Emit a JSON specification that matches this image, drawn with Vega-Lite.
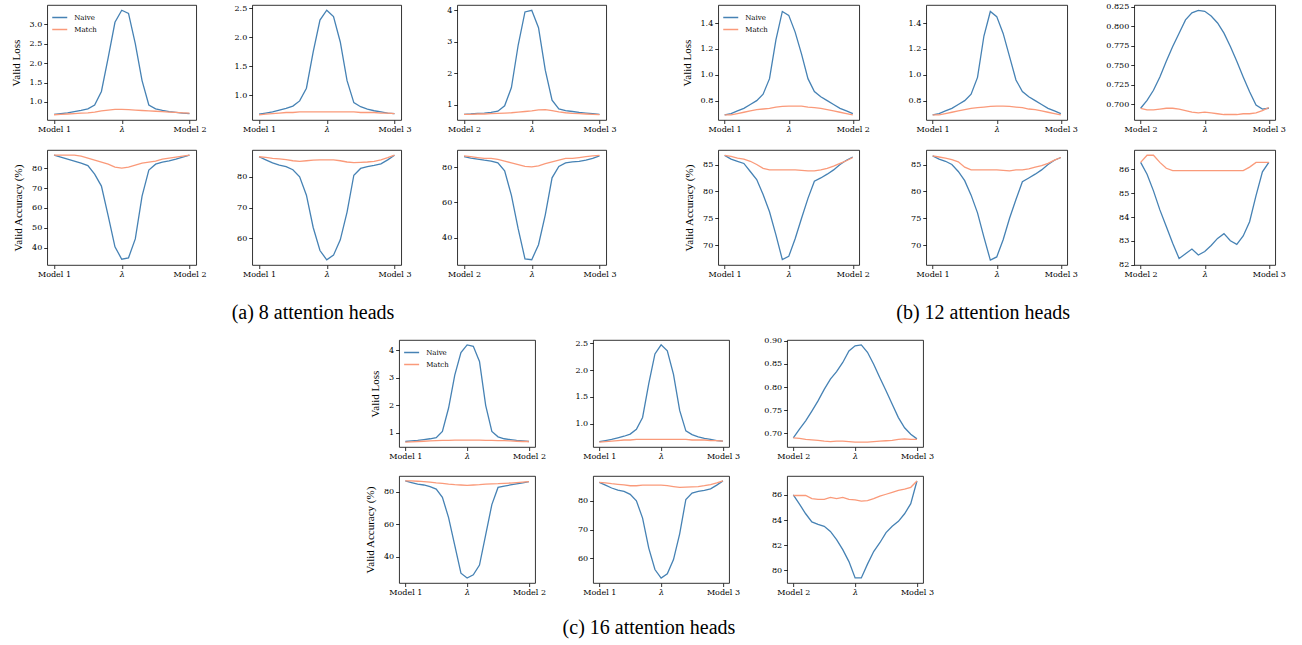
{
"$schema":"https://vega.github.io/schema/vega-lite/v6.json",
"padding":{"left":9,"top":2,"right":5,"bottom":5},
"background":"white",
"data":{"values":[
{"p":"a1L","x":0,"Naive":0.68,"Match":0.67},{"p":"a1L","x":0.05,"Naive":0.70,"Match":0.68},{"p":"a1L","x":0.1,"Naive":0.72,"Match":0.69},{"p":"a1L","x":0.15,"Naive":0.75,"Match":0.70},{"p":"a1L","x":0.2,"Naive":0.78,"Match":0.71},{"p":"a1L","x":0.25,"Naive":0.82,"Match":0.72},{"p":"a1L","x":0.3,"Naive":0.92,"Match":0.74},{"p":"a1L","x":0.35,"Naive":1.27,"Match":0.77},{"p":"a1L","x":0.4,"Naive":2.14,"Match":0.79},{"p":"a1L","x":0.45,"Naive":3.05,"Match":0.81},{"p":"a1L","x":0.5,"Naive":3.36,"Match":0.81},{"p":"a1L","x":0.55,"Naive":3.28,"Match":0.80},{"p":"a1L","x":0.6,"Naive":2.50,"Match":0.79},{"p":"a1L","x":0.65,"Naive":1.55,"Match":0.78},{"p":"a1L","x":0.7,"Naive":0.92,"Match":0.77},{"p":"a1L","x":0.75,"Naive":0.82,"Match":0.76},{"p":"a1L","x":0.8,"Naive":0.78,"Match":0.75},{"p":"a1L","x":0.85,"Naive":0.75,"Match":0.74},{"p":"a1L","x":0.9,"Naive":0.73,"Match":0.73},{"p":"a1L","x":0.95,"Naive":0.71,"Match":0.72},{"p":"a1L","x":1,"Naive":0.70,"Match":0.71},
{"p":"a1A","x":0,"Naive":86.5,"Match":86.5},{"p":"a1A","x":0.05,"Naive":85.5,"Match":86.5},{"p":"a1A","x":0.1,"Naive":84.5,"Match":86.5},{"p":"a1A","x":0.15,"Naive":83.5,"Match":86.5},{"p":"a1A","x":0.2,"Naive":82.5,"Match":86},{"p":"a1A","x":0.25,"Naive":81.3,"Match":85},{"p":"a1A","x":0.3,"Naive":77,"Match":84},{"p":"a1A","x":0.35,"Naive":71,"Match":83},{"p":"a1A","x":0.4,"Naive":56,"Match":82},{"p":"a1A","x":0.45,"Naive":40.5,"Match":80.5},{"p":"a1A","x":0.5,"Naive":34.3,"Match":80},{"p":"a1A","x":0.55,"Naive":35,"Match":80.5},{"p":"a1A","x":0.6,"Naive":44.5,"Match":81.5},{"p":"a1A","x":0.65,"Naive":66,"Match":82.5},{"p":"a1A","x":0.7,"Naive":79,"Match":83},{"p":"a1A","x":0.75,"Naive":82,"Match":83.5},{"p":"a1A","x":0.8,"Naive":83,"Match":84.5},{"p":"a1A","x":0.85,"Naive":83.7,"Match":85},{"p":"a1A","x":0.9,"Naive":84.5,"Match":85.5},{"p":"a1A","x":0.95,"Naive":85.5,"Match":86},{"p":"a1A","x":1,"Naive":86.5,"Match":86.5},
{"p":"a2L","x":0,"Naive":0.67,"Match":0.66},{"p":"a2L","x":0.05,"Naive":0.69,"Match":0.67},{"p":"a2L","x":0.1,"Naive":0.71,"Match":0.68},{"p":"a2L","x":0.15,"Naive":0.74,"Match":0.69},{"p":"a2L","x":0.2,"Naive":0.77,"Match":0.70},{"p":"a2L","x":0.25,"Naive":0.81,"Match":0.70},{"p":"a2L","x":0.3,"Naive":0.90,"Match":0.71},{"p":"a2L","x":0.35,"Naive":1.12,"Match":0.71},{"p":"a2L","x":0.4,"Naive":1.75,"Match":0.71},{"p":"a2L","x":0.45,"Naive":2.30,"Match":0.71},{"p":"a2L","x":0.5,"Naive":2.47,"Match":0.71},{"p":"a2L","x":0.55,"Naive":2.36,"Match":0.71},{"p":"a2L","x":0.6,"Naive":1.92,"Match":0.71},{"p":"a2L","x":0.65,"Naive":1.25,"Match":0.71},{"p":"a2L","x":0.7,"Naive":0.87,"Match":0.71},{"p":"a2L","x":0.75,"Naive":0.80,"Match":0.70},{"p":"a2L","x":0.8,"Naive":0.76,"Match":0.70},{"p":"a2L","x":0.85,"Naive":0.73,"Match":0.70},{"p":"a2L","x":0.9,"Naive":0.71,"Match":0.69},{"p":"a2L","x":0.95,"Naive":0.69,"Match":0.69},{"p":"a2L","x":1,"Naive":0.68,"Match":0.68},
{"p":"a2A","x":0,"Naive":86.5,"Match":86.5},{"p":"a2A","x":0.05,"Naive":85.5,"Match":86.3},{"p":"a2A","x":0.1,"Naive":84.5,"Match":86},{"p":"a2A","x":0.15,"Naive":83.8,"Match":85.8},{"p":"a2A","x":0.2,"Naive":83.3,"Match":85.6},{"p":"a2A","x":0.25,"Naive":82.3,"Match":85.2},{"p":"a2A","x":0.3,"Naive":80,"Match":85},{"p":"a2A","x":0.35,"Naive":74,"Match":85.2},{"p":"a2A","x":0.4,"Naive":63.5,"Match":85.4},{"p":"a2A","x":0.45,"Naive":56,"Match":85.5},{"p":"a2A","x":0.5,"Naive":53,"Match":85.5},{"p":"a2A","x":0.55,"Naive":54.5,"Match":85.5},{"p":"a2A","x":0.6,"Naive":59.5,"Match":85.2},{"p":"a2A","x":0.65,"Naive":68.5,"Match":84.8},{"p":"a2A","x":0.7,"Naive":80.5,"Match":84.6},{"p":"a2A","x":0.75,"Naive":82.7,"Match":84.7},{"p":"a2A","x":0.8,"Naive":83.3,"Match":84.8},{"p":"a2A","x":0.85,"Naive":83.7,"Match":85},{"p":"a2A","x":0.9,"Naive":84.2,"Match":85.5},{"p":"a2A","x":0.95,"Naive":85.5,"Match":86.2},{"p":"a2A","x":1,"Naive":87,"Match":87},
{"p":"a3L","x":0,"Naive":0.70,"Match":0.70},{"p":"a3L","x":0.05,"Naive":0.71,"Match":0.70},{"p":"a3L","x":0.1,"Naive":0.73,"Match":0.71},{"p":"a3L","x":0.15,"Naive":0.74,"Match":0.71},{"p":"a3L","x":0.2,"Naive":0.76,"Match":0.72},{"p":"a3L","x":0.25,"Naive":0.80,"Match":0.73},{"p":"a3L","x":0.3,"Naive":0.97,"Match":0.74},{"p":"a3L","x":0.35,"Naive":1.55,"Match":0.75},{"p":"a3L","x":0.4,"Naive":2.90,"Match":0.77},{"p":"a3L","x":0.45,"Naive":3.95,"Match":0.79},{"p":"a3L","x":0.5,"Naive":4.00,"Match":0.81},{"p":"a3L","x":0.55,"Naive":3.45,"Match":0.84},{"p":"a3L","x":0.6,"Naive":2.10,"Match":0.85},{"p":"a3L","x":0.65,"Naive":1.15,"Match":0.82},{"p":"a3L","x":0.7,"Naive":0.87,"Match":0.78},{"p":"a3L","x":0.75,"Naive":0.82,"Match":0.75},{"p":"a3L","x":0.8,"Naive":0.79,"Match":0.73},{"p":"a3L","x":0.85,"Naive":0.76,"Match":0.72},{"p":"a3L","x":0.9,"Naive":0.74,"Match":0.71},{"p":"a3L","x":0.95,"Naive":0.72,"Match":0.70},{"p":"a3L","x":1,"Naive":0.70,"Match":0.69},
{"p":"a3A","x":0,"Naive":86,"Match":86.5},{"p":"a3A","x":0.05,"Naive":85.2,"Match":86},{"p":"a3A","x":0.1,"Naive":84.6,"Match":85.5},{"p":"a3A","x":0.15,"Naive":84,"Match":85},{"p":"a3A","x":0.2,"Naive":83.5,"Match":85},{"p":"a3A","x":0.25,"Naive":82.5,"Match":84.5},{"p":"a3A","x":0.3,"Naive":78,"Match":83.5},{"p":"a3A","x":0.35,"Naive":64,"Match":82.5},{"p":"a3A","x":0.4,"Naive":45,"Match":81.5},{"p":"a3A","x":0.45,"Naive":28,"Match":80.5},{"p":"a3A","x":0.5,"Naive":27.5,"Match":80.2},{"p":"a3A","x":0.55,"Naive":36,"Match":80.8},{"p":"a3A","x":0.6,"Naive":53,"Match":82},{"p":"a3A","x":0.65,"Naive":74,"Match":83},{"p":"a3A","x":0.7,"Naive":80.5,"Match":84},{"p":"a3A","x":0.75,"Naive":82.5,"Match":85},{"p":"a3A","x":0.8,"Naive":83,"Match":85},{"p":"a3A","x":0.85,"Naive":83.3,"Match":85.5},{"p":"a3A","x":0.9,"Naive":84,"Match":86},{"p":"a3A","x":0.95,"Naive":85,"Match":86.5},{"p":"a3A","x":1,"Naive":86.5,"Match":86.8},
{"p":"b1L","x":0,"Naive":0.69,"Match":0.69},{"p":"b1L","x":0.05,"Naive":0.70,"Match":0.69},{"p":"b1L","x":0.1,"Naive":0.72,"Match":0.70},{"p":"b1L","x":0.15,"Naive":0.74,"Match":0.71},{"p":"b1L","x":0.2,"Naive":0.77,"Match":0.72},{"p":"b1L","x":0.25,"Naive":0.80,"Match":0.73},{"p":"b1L","x":0.3,"Naive":0.85,"Match":0.735},{"p":"b1L","x":0.35,"Naive":0.97,"Match":0.74},{"p":"b1L","x":0.4,"Naive":1.27,"Match":0.75},{"p":"b1L","x":0.45,"Naive":1.49,"Match":0.755},{"p":"b1L","x":0.5,"Naive":1.46,"Match":0.757},{"p":"b1L","x":0.55,"Naive":1.33,"Match":0.757},{"p":"b1L","x":0.6,"Naive":1.16,"Match":0.757},{"p":"b1L","x":0.65,"Naive":0.97,"Match":0.75},{"p":"b1L","x":0.7,"Naive":0.87,"Match":0.745},{"p":"b1L","x":0.75,"Naive":0.83,"Match":0.74},{"p":"b1L","x":0.8,"Naive":0.80,"Match":0.73},{"p":"b1L","x":0.85,"Naive":0.77,"Match":0.72},{"p":"b1L","x":0.9,"Naive":0.74,"Match":0.71},{"p":"b1L","x":0.95,"Naive":0.72,"Match":0.70},{"p":"b1L","x":1,"Naive":0.70,"Match":0.69},
{"p":"b1A","x":0,"Naive":86.7,"Match":86.7},{"p":"b1A","x":0.05,"Naive":86,"Match":86.5},{"p":"b1A","x":0.1,"Naive":85.6,"Match":86.2},{"p":"b1A","x":0.15,"Naive":85.2,"Match":86},{"p":"b1A","x":0.2,"Naive":83.7,"Match":85.6},{"p":"b1A","x":0.25,"Naive":82.2,"Match":85},{"p":"b1A","x":0.3,"Naive":79.4,"Match":84.3},{"p":"b1A","x":0.35,"Naive":76.2,"Match":84},{"p":"b1A","x":0.4,"Naive":71.9,"Match":84},{"p":"b1A","x":0.45,"Naive":67.3,"Match":84},{"p":"b1A","x":0.5,"Naive":67.9,"Match":84},{"p":"b1A","x":0.55,"Naive":71.2,"Match":84},{"p":"b1A","x":0.6,"Naive":75,"Match":83.9},{"p":"b1A","x":0.65,"Naive":78.7,"Match":83.8},{"p":"b1A","x":0.7,"Naive":81.9,"Match":83.8},{"p":"b1A","x":0.75,"Naive":82.5,"Match":84},{"p":"b1A","x":0.8,"Naive":83.2,"Match":84.3},{"p":"b1A","x":0.85,"Naive":84,"Match":84.7},{"p":"b1A","x":0.9,"Naive":85,"Match":85.2},{"p":"b1A","x":0.95,"Naive":85.8,"Match":85.7},{"p":"b1A","x":1,"Naive":86.4,"Match":86.3},
{"p":"b2L","x":0,"Naive":0.69,"Match":0.69},{"p":"b2L","x":0.05,"Naive":0.70,"Match":0.69},{"p":"b2L","x":0.1,"Naive":0.72,"Match":0.70},{"p":"b2L","x":0.15,"Naive":0.74,"Match":0.71},{"p":"b2L","x":0.2,"Naive":0.77,"Match":0.72},{"p":"b2L","x":0.25,"Naive":0.80,"Match":0.73},{"p":"b2L","x":0.3,"Naive":0.85,"Match":0.74},{"p":"b2L","x":0.35,"Naive":0.98,"Match":0.745},{"p":"b2L","x":0.4,"Naive":1.30,"Match":0.75},{"p":"b2L","x":0.45,"Naive":1.49,"Match":0.755},{"p":"b2L","x":0.5,"Naive":1.45,"Match":0.757},{"p":"b2L","x":0.55,"Naive":1.32,"Match":0.757},{"p":"b2L","x":0.6,"Naive":1.14,"Match":0.755},{"p":"b2L","x":0.65,"Naive":0.96,"Match":0.75},{"p":"b2L","x":0.7,"Naive":0.87,"Match":0.745},{"p":"b2L","x":0.75,"Naive":0.83,"Match":0.735},{"p":"b2L","x":0.8,"Naive":0.80,"Match":0.73},{"p":"b2L","x":0.85,"Naive":0.77,"Match":0.72},{"p":"b2L","x":0.9,"Naive":0.74,"Match":0.71},{"p":"b2L","x":0.95,"Naive":0.72,"Match":0.70},{"p":"b2L","x":1,"Naive":0.70,"Match":0.69},
{"p":"b2A","x":0,"Naive":86.6,"Match":86.6},{"p":"b2A","x":0.05,"Naive":86,"Match":86.4},{"p":"b2A","x":0.1,"Naive":85.6,"Match":86.2},{"p":"b2A","x":0.15,"Naive":85,"Match":85.9},{"p":"b2A","x":0.2,"Naive":83.7,"Match":85.5},{"p":"b2A","x":0.25,"Naive":82,"Match":84.5},{"p":"b2A","x":0.3,"Naive":79.3,"Match":84},{"p":"b2A","x":0.35,"Naive":76,"Match":84},{"p":"b2A","x":0.4,"Naive":71.5,"Match":84},{"p":"b2A","x":0.45,"Naive":67.2,"Match":84},{"p":"b2A","x":0.5,"Naive":67.8,"Match":84},{"p":"b2A","x":0.55,"Naive":71,"Match":83.9},{"p":"b2A","x":0.6,"Naive":75,"Match":83.8},{"p":"b2A","x":0.65,"Naive":78.5,"Match":84},{"p":"b2A","x":0.7,"Naive":81.8,"Match":84},{"p":"b2A","x":0.75,"Naive":82.5,"Match":84.2},{"p":"b2A","x":0.8,"Naive":83.2,"Match":84.5},{"p":"b2A","x":0.85,"Naive":84,"Match":84.8},{"p":"b2A","x":0.9,"Naive":85,"Match":85.2},{"p":"b2A","x":0.95,"Naive":85.8,"Match":85.8},{"p":"b2A","x":1,"Naive":86.3,"Match":86.3},
{"p":"b3L","x":0,"Naive":0.695,"Match":0.695},{"p":"b3L","x":0.05,"Naive":0.705,"Match":0.693},{"p":"b3L","x":0.1,"Naive":0.718,"Match":0.693},{"p":"b3L","x":0.15,"Naive":0.735,"Match":0.694},{"p":"b3L","x":0.2,"Naive":0.755,"Match":0.695},{"p":"b3L","x":0.25,"Naive":0.774,"Match":0.695},{"p":"b3L","x":0.3,"Naive":0.791,"Match":0.694},{"p":"b3L","x":0.35,"Naive":0.808,"Match":0.692},{"p":"b3L","x":0.4,"Naive":0.817,"Match":0.690},{"p":"b3L","x":0.45,"Naive":0.820,"Match":0.689},{"p":"b3L","x":0.5,"Naive":0.819,"Match":0.690},{"p":"b3L","x":0.55,"Naive":0.813,"Match":0.689},{"p":"b3L","x":0.6,"Naive":0.804,"Match":0.688},{"p":"b3L","x":0.65,"Naive":0.791,"Match":0.687},{"p":"b3L","x":0.7,"Naive":0.774,"Match":0.687},{"p":"b3L","x":0.75,"Naive":0.755,"Match":0.687},{"p":"b3L","x":0.8,"Naive":0.735,"Match":0.688},{"p":"b3L","x":0.85,"Naive":0.716,"Match":0.688},{"p":"b3L","x":0.9,"Naive":0.699,"Match":0.689},{"p":"b3L","x":0.95,"Naive":0.694,"Match":0.692},{"p":"b3L","x":1,"Naive":0.695,"Match":0.696},
{"p":"b3A","x":0,"Naive":86.3,"Match":86.3},{"p":"b3A","x":0.05,"Naive":85.8,"Match":86.6},{"p":"b3A","x":0.1,"Naive":85.1,"Match":86.6},{"p":"b3A","x":0.15,"Naive":84.3,"Match":86.3},{"p":"b3A","x":0.2,"Naive":83.6,"Match":86.05},{"p":"b3A","x":0.25,"Naive":82.9,"Match":85.95},{"p":"b3A","x":0.3,"Naive":82.25,"Match":85.95},{"p":"b3A","x":0.35,"Naive":82.45,"Match":85.95},{"p":"b3A","x":0.4,"Naive":82.65,"Match":85.95},{"p":"b3A","x":0.45,"Naive":82.4,"Match":85.95},{"p":"b3A","x":0.5,"Naive":82.55,"Match":85.95},{"p":"b3A","x":0.55,"Naive":82.8,"Match":85.95},{"p":"b3A","x":0.6,"Naive":83.1,"Match":85.95},{"p":"b3A","x":0.65,"Naive":83.3,"Match":85.95},{"p":"b3A","x":0.7,"Naive":83.0,"Match":85.95},{"p":"b3A","x":0.75,"Naive":82.85,"Match":85.95},{"p":"b3A","x":0.8,"Naive":83.2,"Match":85.95},{"p":"b3A","x":0.85,"Naive":83.8,"Match":86.1},{"p":"b3A","x":0.9,"Naive":84.9,"Match":86.3},{"p":"b3A","x":0.95,"Naive":85.9,"Match":86.3},{"p":"b3A","x":1,"Naive":86.3,"Match":86.3},
{"p":"c1L","x":0,"Naive":0.68,"Match":0.66},{"p":"c1L","x":0.05,"Naive":0.70,"Match":0.67},{"p":"c1L","x":0.1,"Naive":0.72,"Match":0.68},{"p":"c1L","x":0.15,"Naive":0.75,"Match":0.69},{"p":"c1L","x":0.2,"Naive":0.78,"Match":0.70},{"p":"c1L","x":0.25,"Naive":0.82,"Match":0.71},{"p":"c1L","x":0.3,"Naive":1.05,"Match":0.72},{"p":"c1L","x":0.35,"Naive":1.90,"Match":0.72},{"p":"c1L","x":0.4,"Naive":3.10,"Match":0.73},{"p":"c1L","x":0.45,"Naive":3.92,"Match":0.73},{"p":"c1L","x":0.5,"Naive":4.20,"Match":0.73},{"p":"c1L","x":0.55,"Naive":4.15,"Match":0.73},{"p":"c1L","x":0.6,"Naive":3.60,"Match":0.73},{"p":"c1L","x":0.65,"Naive":2.00,"Match":0.72},{"p":"c1L","x":0.7,"Naive":1.05,"Match":0.72},{"p":"c1L","x":0.75,"Naive":0.85,"Match":0.71},{"p":"c1L","x":0.8,"Naive":0.78,"Match":0.71},{"p":"c1L","x":0.85,"Naive":0.75,"Match":0.70},{"p":"c1L","x":0.9,"Naive":0.72,"Match":0.69},{"p":"c1L","x":0.95,"Naive":0.70,"Match":0.68},{"p":"c1L","x":1,"Naive":0.68,"Match":0.68},
{"p":"c1A","x":0,"Naive":86.5,"Match":86.5},{"p":"c1A","x":0.05,"Naive":85.5,"Match":86.5},{"p":"c1A","x":0.1,"Naive":84.5,"Match":86.3},{"p":"c1A","x":0.15,"Naive":84,"Match":86},{"p":"c1A","x":0.2,"Naive":83,"Match":85.7},{"p":"c1A","x":0.25,"Naive":81.5,"Match":85.3},{"p":"c1A","x":0.3,"Naive":76.5,"Match":85},{"p":"c1A","x":0.35,"Naive":64,"Match":84.5},{"p":"c1A","x":0.4,"Naive":47,"Match":84.2},{"p":"c1A","x":0.45,"Naive":30,"Match":84},{"p":"c1A","x":0.5,"Naive":27,"Match":83.8},{"p":"c1A","x":0.55,"Naive":29,"Match":84},{"p":"c1A","x":0.6,"Naive":35,"Match":84.2},{"p":"c1A","x":0.65,"Naive":53.5,"Match":84.5},{"p":"c1A","x":0.7,"Naive":72,"Match":84.7},{"p":"c1A","x":0.75,"Naive":82.5,"Match":84.8},{"p":"c1A","x":0.8,"Naive":83.3,"Match":85},{"p":"c1A","x":0.85,"Naive":84,"Match":85.2},{"p":"c1A","x":0.9,"Naive":84.7,"Match":85.5},{"p":"c1A","x":0.95,"Naive":85.3,"Match":85.8},{"p":"c1A","x":1,"Naive":86,"Match":86},
{"p":"c2L","x":0,"Naive":0.67,"Match":0.66},{"p":"c2L","x":0.05,"Naive":0.69,"Match":0.67},{"p":"c2L","x":0.1,"Naive":0.71,"Match":0.68},{"p":"c2L","x":0.15,"Naive":0.74,"Match":0.69},{"p":"c2L","x":0.2,"Naive":0.77,"Match":0.70},{"p":"c2L","x":0.25,"Naive":0.81,"Match":0.70},{"p":"c2L","x":0.3,"Naive":0.90,"Match":0.71},{"p":"c2L","x":0.35,"Naive":1.12,"Match":0.71},{"p":"c2L","x":0.4,"Naive":1.75,"Match":0.71},{"p":"c2L","x":0.45,"Naive":2.30,"Match":0.71},{"p":"c2L","x":0.5,"Naive":2.47,"Match":0.71},{"p":"c2L","x":0.55,"Naive":2.36,"Match":0.71},{"p":"c2L","x":0.6,"Naive":1.92,"Match":0.71},{"p":"c2L","x":0.65,"Naive":1.25,"Match":0.71},{"p":"c2L","x":0.7,"Naive":0.87,"Match":0.71},{"p":"c2L","x":0.75,"Naive":0.80,"Match":0.70},{"p":"c2L","x":0.8,"Naive":0.76,"Match":0.70},{"p":"c2L","x":0.85,"Naive":0.73,"Match":0.70},{"p":"c2L","x":0.9,"Naive":0.71,"Match":0.69},{"p":"c2L","x":0.95,"Naive":0.69,"Match":0.69},{"p":"c2L","x":1,"Naive":0.68,"Match":0.68},
{"p":"c2A","x":0,"Naive":86.5,"Match":86.5},{"p":"c2A","x":0.05,"Naive":85.5,"Match":86.3},{"p":"c2A","x":0.1,"Naive":84.5,"Match":86},{"p":"c2A","x":0.15,"Naive":83.8,"Match":85.8},{"p":"c2A","x":0.2,"Naive":83.3,"Match":85.6},{"p":"c2A","x":0.25,"Naive":82.3,"Match":85.3},{"p":"c2A","x":0.3,"Naive":80,"Match":85.3},{"p":"c2A","x":0.35,"Naive":74,"Match":85.5},{"p":"c2A","x":0.4,"Naive":63.5,"Match":85.5},{"p":"c2A","x":0.45,"Naive":56,"Match":85.5},{"p":"c2A","x":0.5,"Naive":53,"Match":85.5},{"p":"c2A","x":0.55,"Naive":54.5,"Match":85.3},{"p":"c2A","x":0.6,"Naive":59.5,"Match":85},{"p":"c2A","x":0.65,"Naive":68.5,"Match":84.7},{"p":"c2A","x":0.7,"Naive":80.5,"Match":84.8},{"p":"c2A","x":0.75,"Naive":82.7,"Match":84.9},{"p":"c2A","x":0.8,"Naive":83.3,"Match":85},{"p":"c2A","x":0.85,"Naive":83.7,"Match":85.3},{"p":"c2A","x":0.9,"Naive":84.2,"Match":85.7},{"p":"c2A","x":0.95,"Naive":85.5,"Match":86.3},{"p":"c2A","x":1,"Naive":87,"Match":87},
{"p":"c3L","x":0,"Naive":0.690,"Match":0.690},{"p":"c3L","x":0.05,"Naive":0.709,"Match":0.689},{"p":"c3L","x":0.1,"Naive":0.727,"Match":0.687},{"p":"c3L","x":0.15,"Naive":0.748,"Match":0.686},{"p":"c3L","x":0.2,"Naive":0.770,"Match":0.685},{"p":"c3L","x":0.25,"Naive":0.795,"Match":0.683},{"p":"c3L","x":0.3,"Naive":0.817,"Match":0.682},{"p":"c3L","x":0.35,"Naive":0.833,"Match":0.683},{"p":"c3L","x":0.4,"Naive":0.853,"Match":0.683},{"p":"c3L","x":0.45,"Naive":0.878,"Match":0.682},{"p":"c3L","x":0.5,"Naive":0.889,"Match":0.681},{"p":"c3L","x":0.55,"Naive":0.891,"Match":0.681},{"p":"c3L","x":0.6,"Naive":0.875,"Match":0.681},{"p":"c3L","x":0.65,"Naive":0.849,"Match":0.682},{"p":"c3L","x":0.7,"Naive":0.820,"Match":0.683},{"p":"c3L","x":0.75,"Naive":0.792,"Match":0.684},{"p":"c3L","x":0.8,"Naive":0.763,"Match":0.685},{"p":"c3L","x":0.85,"Naive":0.734,"Match":0.687},{"p":"c3L","x":0.9,"Naive":0.712,"Match":0.688},{"p":"c3L","x":0.95,"Naive":0.698,"Match":0.687},{"p":"c3L","x":1,"Naive":0.688,"Match":0.687},
{"p":"c3A","x":0,"Naive":86,"Match":85.95},{"p":"c3A","x":0.05,"Naive":85.26,"Match":85.95},{"p":"c3A","x":0.1,"Naive":84.5,"Match":85.95},{"p":"c3A","x":0.15,"Naive":83.85,"Match":85.7},{"p":"c3A","x":0.2,"Naive":83.65,"Match":85.65},{"p":"c3A","x":0.25,"Naive":83.5,"Match":85.65},{"p":"c3A","x":0.3,"Naive":83.1,"Match":85.8},{"p":"c3A","x":0.35,"Naive":82.45,"Match":85.7},{"p":"c3A","x":0.4,"Naive":81.65,"Match":85.8},{"p":"c3A","x":0.45,"Naive":80.7,"Match":85.65},{"p":"c3A","x":0.5,"Naive":79.4,"Match":85.6},{"p":"c3A","x":0.55,"Naive":79.4,"Match":85.5},{"p":"c3A","x":0.6,"Naive":80.5,"Match":85.55},{"p":"c3A","x":0.65,"Naive":81.5,"Match":85.7},{"p":"c3A","x":0.7,"Naive":82.2,"Match":85.9},{"p":"c3A","x":0.75,"Naive":83,"Match":86.05},{"p":"c3A","x":0.8,"Naive":83.5,"Match":86.2},{"p":"c3A","x":0.85,"Naive":83.9,"Match":86.35},{"p":"c3A","x":0.9,"Naive":84.5,"Match":86.45},{"p":"c3A","x":0.95,"Naive":85.3,"Match":86.6},{"p":"c3A","x":1,"Naive":87.1,"Match":87.1}
]},
"config":{
 "view":{"stroke":"#000","strokeWidth":0.8},
 "axis":{"grid":false,"domain":false,"tickColor":"#000","tickWidth":0.8,"tickSize":3.5,"labelFont":"DejaVu Serif","labelFontSize":8,"labelColor":"#000","labelPadding":2,"titleFont":"Liberation Serif","titleFontSize":11,"titleFontWeight":"normal","titleColor":"#000","titlePadding":8},
 "axisX":{"labelFlush":false,"labelOverlap":false},
 "title":{"font":"Liberation Serif","fontSize":20,"fontWeight":"normal","color":"#000"}
},
"vconcat":[
 {"hconcat":[
  {"concat":[
   {"width":149,"height":115,"transform":[{"filter":"datum.p=='a1L'"},{"fold":["Naive","Match"],"as":["s","v"]}],"mark":{"type":"line","strokeWidth":1.3},
    "encoding":{"x":{"field":"x","type":"quantitative","scale":{"domain":[-0.05,1.05],"nice":false,"zero":false},"axis":{"title":null,"values":[0,0.5,1],"labelExpr":"datum.value==0?'Model 1':datum.value==1?'Model 2':'λ'","labelFontStyle":{"condition":{"test":"datum.value==0.5","value":"italic"},"value":"normal"}}},
     "y":{"field":"v","type":"quantitative","scale":{"domain":[0.535,3.495],"nice":false,"zero":false},"axis":{"title":"Valid Loss","values":[1,1.5,2,2.5,3],"format":".1f"}},
     "color":{"field":"s","type":"nominal","scale":{"domain":["Naive","Match"],"range":["#4682b4","#fa9a7a"]},"legend":{"title":null,"orient":"top-left","offset":4,"padding":0,"symbolType":"stroke","symbolSize":225,"symbolStrokeWidth":1.5,"labelFont":"DejaVu Serif","labelFontSize":7,"labelColor":"#000","labelOffset":6,"rowPadding":-4}}}},
   {"width":149,"height":115,"transform":[{"filter":"datum.p=='a2L'"},{"fold":["Naive","Match"],"as":["s","v"]}],"mark":{"type":"line","strokeWidth":1.3},
    "encoding":{"x":{"field":"x","type":"quantitative","scale":{"domain":[-0.05,1.05],"nice":false,"zero":false},"axis":{"title":null,"values":[0,0.5,1],"labelExpr":"datum.value==0?'Model 1':datum.value==1?'Model 3':'λ'","labelFontStyle":{"condition":{"test":"datum.value==0.5","value":"italic"},"value":"normal"}}},
     "y":{"field":"v","type":"quantitative","scale":{"domain":[0.57,2.56],"nice":false,"zero":false},"axis":{"title":null,"values":[1,1.5,2,2.5],"format":".1f"}},
     "color":{"field":"s","type":"nominal","scale":{"domain":["Naive","Match"],"range":["#4682b4","#fa9a7a"]},"legend":null}}},
   {"width":149,"height":115,"transform":[{"filter":"datum.p=='a3L'"},{"fold":["Naive","Match"],"as":["s","v"]}],"mark":{"type":"line","strokeWidth":1.3},
    "encoding":{"x":{"field":"x","type":"quantitative","scale":{"domain":[-0.05,1.05],"nice":false,"zero":false},"axis":{"title":null,"values":[0,0.5,1],"labelExpr":"datum.value==0?'Model 2':datum.value==1?'Model 3':'λ'","labelFontStyle":{"condition":{"test":"datum.value==0.5","value":"italic"},"value":"normal"}}},
     "y":{"field":"v","type":"quantitative","scale":{"domain":[0.52,4.17],"nice":false,"zero":false},"axis":{"title":null,"values":[1,2,3,4],"format":"d"}},
     "color":{"field":"s","type":"nominal","scale":{"domain":["Naive","Match"],"range":["#4682b4","#fa9a7a"]},"legend":null}}},
   {"width":149,"height":115,"transform":[{"filter":"datum.p=='a1A'"},{"fold":["Naive","Match"],"as":["s","v"]}],"mark":{"type":"line","strokeWidth":1.3},
    "encoding":{"x":{"field":"x","type":"quantitative","scale":{"domain":[-0.05,1.05],"nice":false,"zero":false},"axis":{"title":null,"values":[0,0.5,1],"labelExpr":"datum.value==0?'Model 1':datum.value==1?'Model 2':'λ'","labelFontStyle":{"condition":{"test":"datum.value==0.5","value":"italic"},"value":"normal"}}},
     "y":{"field":"v","type":"quantitative","scale":{"domain":[31.4,89.1],"nice":false,"zero":false},"axis":{"title":"Valid Accuracy (%)","values":[40,50,60,70,80],"format":"d"}},
     "color":{"field":"s","type":"nominal","scale":{"domain":["Naive","Match"],"range":["#4682b4","#fa9a7a"]},"legend":null}}},
   {"width":149,"height":115,"transform":[{"filter":"datum.p=='a2A'"},{"fold":["Naive","Match"],"as":["s","v"]}],"mark":{"type":"line","strokeWidth":1.3},
    "encoding":{"x":{"field":"x","type":"quantitative","scale":{"domain":[-0.05,1.05],"nice":false,"zero":false},"axis":{"title":null,"values":[0,0.5,1],"labelExpr":"datum.value==0?'Model 1':datum.value==1?'Model 3':'λ'","labelFontStyle":{"condition":{"test":"datum.value==0.5","value":"italic"},"value":"normal"}}},
     "y":{"field":"v","type":"quantitative","scale":{"domain":[51.3,88.7],"nice":false,"zero":false},"axis":{"title":null,"values":[60,70,80],"format":"d"}},
     "color":{"field":"s","type":"nominal","scale":{"domain":["Naive","Match"],"range":["#4682b4","#fa9a7a"]},"legend":null}}},
   {"width":149,"height":115,"transform":[{"filter":"datum.p=='a3A'"},{"fold":["Naive","Match"],"as":["s","v"]}],"mark":{"type":"line","strokeWidth":1.3},
    "encoding":{"x":{"field":"x","type":"quantitative","scale":{"domain":[-0.05,1.05],"nice":false,"zero":false},"axis":{"title":null,"values":[0,0.5,1],"labelExpr":"datum.value==0?'Model 2':datum.value==1?'Model 3':'λ'","labelFontStyle":{"condition":{"test":"datum.value==0.5","value":"italic"},"value":"normal"}}},
     "y":{"field":"v","type":"quantitative","scale":{"domain":[24.5,89.8],"nice":false,"zero":false},"axis":{"title":null,"values":[40,60,80],"format":"d"}},
     "color":{"field":"s","type":"nominal","scale":{"domain":["Naive","Match"],"range":["#4682b4","#fa9a7a"]},"legend":null}}}
  ],"columns":3,"bounds":"flush","spacing":{"row":30,"column":56},
  "resolve":{"scale":{"color":"independent"},"legend":{"color":"independent"}},
  "title":{"text":"(a) 8 attention heads","orient":"bottom","anchor":"middle","offset":24}},
  {"concat":[
   {"width":141,"height":115,"transform":[{"filter":"datum.p=='b1L'"},{"fold":["Naive","Match"],"as":["s","v"]}],"mark":{"type":"line","strokeWidth":1.3},
    "encoding":{"x":{"field":"x","type":"quantitative","scale":{"domain":[-0.05,1.05],"nice":false,"zero":false},"axis":{"title":null,"values":[0,0.5,1],"labelExpr":"datum.value==0?'Model 1':datum.value==1?'Model 2':'λ'","labelFontStyle":{"condition":{"test":"datum.value==0.5","value":"italic"},"value":"normal"}}},
     "y":{"field":"v","type":"quantitative","scale":{"domain":[0.65,1.54],"nice":false,"zero":false},"axis":{"title":"Valid Loss","values":[0.8,1.0,1.2,1.4],"format":".1f"}},
     "color":{"field":"s","type":"nominal","scale":{"domain":["Naive","Match"],"range":["#4682b4","#fa9a7a"]},"legend":{"title":null,"orient":"top-left","offset":4,"padding":0,"symbolType":"stroke","symbolSize":225,"symbolStrokeWidth":1.5,"labelFont":"DejaVu Serif","labelFontSize":7,"labelColor":"#000","labelOffset":6,"rowPadding":-4}}}},
   {"width":141,"height":115,"transform":[{"filter":"datum.p=='b2L'"},{"fold":["Naive","Match"],"as":["s","v"]}],"mark":{"type":"line","strokeWidth":1.3},
    "encoding":{"x":{"field":"x","type":"quantitative","scale":{"domain":[-0.05,1.05],"nice":false,"zero":false},"axis":{"title":null,"values":[0,0.5,1],"labelExpr":"datum.value==0?'Model 1':datum.value==1?'Model 3':'λ'","labelFontStyle":{"condition":{"test":"datum.value==0.5","value":"italic"},"value":"normal"}}},
     "y":{"field":"v","type":"quantitative","scale":{"domain":[0.65,1.54],"nice":false,"zero":false},"axis":{"title":null,"values":[0.8,1.0,1.2,1.4],"format":".1f"}},
     "color":{"field":"s","type":"nominal","scale":{"domain":["Naive","Match"],"range":["#4682b4","#fa9a7a"]},"legend":null}}},
   {"width":141,"height":115,"transform":[{"filter":"datum.p=='b3L'"},{"fold":["Naive","Match"],"as":["s","v"]}],"mark":{"type":"line","strokeWidth":1.3},
    "encoding":{"x":{"field":"x","type":"quantitative","scale":{"domain":[-0.05,1.05],"nice":false,"zero":false},"axis":{"title":null,"values":[0,0.5,1],"labelExpr":"datum.value==0?'Model 2':datum.value==1?'Model 3':'λ'","labelFontStyle":{"condition":{"test":"datum.value==0.5","value":"italic"},"value":"normal"}}},
     "y":{"field":"v","type":"quantitative","scale":{"domain":[0.680,0.827],"nice":false,"zero":false},"axis":{"title":null,"values":[0.7,0.725,0.75,0.775,0.8,0.825],"format":".3f"}},
     "color":{"field":"s","type":"nominal","scale":{"domain":["Naive","Match"],"range":["#4682b4","#fa9a7a"]},"legend":null}}},
   {"width":141,"height":115,"transform":[{"filter":"datum.p=='b1A'"},{"fold":["Naive","Match"],"as":["s","v"]}],"mark":{"type":"line","strokeWidth":1.3},
    "encoding":{"x":{"field":"x","type":"quantitative","scale":{"domain":[-0.05,1.05],"nice":false,"zero":false},"axis":{"title":null,"values":[0,0.5,1],"labelExpr":"datum.value==0?'Model 1':datum.value==1?'Model 2':'λ'","labelFontStyle":{"condition":{"test":"datum.value==0.5","value":"italic"},"value":"normal"}}},
     "y":{"field":"v","type":"quantitative","scale":{"domain":[66.3,87.7],"nice":false,"zero":false},"axis":{"title":"Valid Accuracy (%)","values":[70,75,80,85],"format":"d"}},
     "color":{"field":"s","type":"nominal","scale":{"domain":["Naive","Match"],"range":["#4682b4","#fa9a7a"]},"legend":null}}},
   {"width":141,"height":115,"transform":[{"filter":"datum.p=='b2A'"},{"fold":["Naive","Match"],"as":["s","v"]}],"mark":{"type":"line","strokeWidth":1.3},
    "encoding":{"x":{"field":"x","type":"quantitative","scale":{"domain":[-0.05,1.05],"nice":false,"zero":false},"axis":{"title":null,"values":[0,0.5,1],"labelExpr":"datum.value==0?'Model 1':datum.value==1?'Model 3':'λ'","labelFontStyle":{"condition":{"test":"datum.value==0.5","value":"italic"},"value":"normal"}}},
     "y":{"field":"v","type":"quantitative","scale":{"domain":[66.3,87.7],"nice":false,"zero":false},"axis":{"title":null,"values":[70,75,80,85],"format":"d"}},
     "color":{"field":"s","type":"nominal","scale":{"domain":["Naive","Match"],"range":["#4682b4","#fa9a7a"]},"legend":null}}},
   {"width":141,"height":115,"transform":[{"filter":"datum.p=='b3A'"},{"fold":["Naive","Match"],"as":["s","v"]}],"mark":{"type":"line","strokeWidth":1.3},
    "encoding":{"x":{"field":"x","type":"quantitative","scale":{"domain":[-0.05,1.05],"nice":false,"zero":false},"axis":{"title":null,"values":[0,0.5,1],"labelExpr":"datum.value==0?'Model 2':datum.value==1?'Model 3':'λ'","labelFontStyle":{"condition":{"test":"datum.value==0.5","value":"italic"},"value":"normal"}}},
     "y":{"field":"v","type":"quantitative","scale":{"domain":[81.98,86.82],"nice":false,"zero":false},"axis":{"title":null,"values":[82,83,84,85,86],"format":"d"}},
     "color":{"field":"s","type":"nominal","scale":{"domain":["Naive","Match"],"range":["#4682b4","#fa9a7a"]},"legend":null}}}
  ],"columns":3,"bounds":"flush","spacing":{"row":30,"column":67},
  "resolve":{"scale":{"color":"independent"},"legend":{"color":"independent"}},
  "title":{"text":"(b) 12 attention heads","orient":"bottom","anchor":"middle","offset":24}}
 ],"spacing":63,"resolve":{"scale":{"color":"independent"},"legend":{"color":"independent"}}},
 {"concat":[
   {"width":136,"height":107,"transform":[{"filter":"datum.p=='c1L'"},{"fold":["Naive","Match"],"as":["s","v"]}],"mark":{"type":"line","strokeWidth":1.3},
    "encoding":{"x":{"field":"x","type":"quantitative","scale":{"domain":[-0.05,1.05],"nice":false,"zero":false},"axis":{"title":null,"values":[0,0.5,1],"labelExpr":"datum.value==0?'Model 1':datum.value==1?'Model 2':'λ'","labelFontStyle":{"condition":{"test":"datum.value==0.5","value":"italic"},"value":"normal"}}},
     "y":{"field":"v","type":"quantitative","scale":{"domain":[0.48,4.38],"nice":false,"zero":false},"axis":{"title":"Valid Loss","values":[1,2,3,4],"format":"d"}},
     "color":{"field":"s","type":"nominal","scale":{"domain":["Naive","Match"],"range":["#4682b4","#fa9a7a"]},"legend":{"title":null,"orient":"top-left","offset":4,"padding":0,"symbolType":"stroke","symbolSize":225,"symbolStrokeWidth":1.5,"labelFont":"DejaVu Serif","labelFontSize":7,"labelColor":"#000","labelOffset":6,"rowPadding":-4}}}},
   {"width":136,"height":107,"transform":[{"filter":"datum.p=='c2L'"},{"fold":["Naive","Match"],"as":["s","v"]}],"mark":{"type":"line","strokeWidth":1.3},
    "encoding":{"x":{"field":"x","type":"quantitative","scale":{"domain":[-0.05,1.05],"nice":false,"zero":false},"axis":{"title":null,"values":[0,0.5,1],"labelExpr":"datum.value==0?'Model 1':datum.value==1?'Model 3':'λ'","labelFontStyle":{"condition":{"test":"datum.value==0.5","value":"italic"},"value":"normal"}}},
     "y":{"field":"v","type":"quantitative","scale":{"domain":[0.57,2.56],"nice":false,"zero":false},"axis":{"title":null,"values":[1,1.5,2,2.5],"format":".1f"}},
     "color":{"field":"s","type":"nominal","scale":{"domain":["Naive","Match"],"range":["#4682b4","#fa9a7a"]},"legend":null}}},
   {"width":136,"height":107,"transform":[{"filter":"datum.p=='c3L'"},{"fold":["Naive","Match"],"as":["s","v"]}],"mark":{"type":"line","strokeWidth":1.3},
    "encoding":{"x":{"field":"x","type":"quantitative","scale":{"domain":[-0.05,1.05],"nice":false,"zero":false},"axis":{"title":null,"values":[0,0.5,1],"labelExpr":"datum.value==0?'Model 2':datum.value==1?'Model 3':'λ'","labelFontStyle":{"condition":{"test":"datum.value==0.5","value":"italic"},"value":"normal"}}},
     "y":{"field":"v","type":"quantitative","scale":{"domain":[0.6705,0.9015],"nice":false,"zero":false},"axis":{"title":null,"values":[0.7,0.75,0.8,0.85,0.9],"format":".2f"}},
     "color":{"field":"s","type":"nominal","scale":{"domain":["Naive","Match"],"range":["#4682b4","#fa9a7a"]},"legend":null}}},
   {"width":136,"height":107,"transform":[{"filter":"datum.p=='c1A'"},{"fold":["Naive","Match"],"as":["s","v"]}],"mark":{"type":"line","strokeWidth":1.3},
    "encoding":{"x":{"field":"x","type":"quantitative","scale":{"domain":[-0.05,1.05],"nice":false,"zero":false},"axis":{"title":null,"values":[0,0.5,1],"labelExpr":"datum.value==0?'Model 1':datum.value==1?'Model 2':'λ'","labelFontStyle":{"condition":{"test":"datum.value==0.5","value":"italic"},"value":"normal"}}},
     "y":{"field":"v","type":"quantitative","scale":{"domain":[24,89.5],"nice":false,"zero":false},"axis":{"title":"Valid Accuracy (%)","values":[40,60,80],"format":"d"}},
     "color":{"field":"s","type":"nominal","scale":{"domain":["Naive","Match"],"range":["#4682b4","#fa9a7a"]},"legend":null}}},
   {"width":136,"height":107,"transform":[{"filter":"datum.p=='c2A'"},{"fold":["Naive","Match"],"as":["s","v"]}],"mark":{"type":"line","strokeWidth":1.3},
    "encoding":{"x":{"field":"x","type":"quantitative","scale":{"domain":[-0.05,1.05],"nice":false,"zero":false},"axis":{"title":null,"values":[0,0.5,1],"labelExpr":"datum.value==0?'Model 1':datum.value==1?'Model 3':'λ'","labelFontStyle":{"condition":{"test":"datum.value==0.5","value":"italic"},"value":"normal"}}},
     "y":{"field":"v","type":"quantitative","scale":{"domain":[51.3,88.7],"nice":false,"zero":false},"axis":{"title":null,"values":[60,70,80],"format":"d"}},
     "color":{"field":"s","type":"nominal","scale":{"domain":["Naive","Match"],"range":["#4682b4","#fa9a7a"]},"legend":null}}},
   {"width":136,"height":107,"transform":[{"filter":"datum.p=='c3A'"},{"fold":["Naive","Match"],"as":["s","v"]}],"mark":{"type":"line","strokeWidth":1.3},
    "encoding":{"x":{"field":"x","type":"quantitative","scale":{"domain":[-0.05,1.05],"nice":false,"zero":false},"axis":{"title":null,"values":[0,0.5,1],"labelExpr":"datum.value==0?'Model 2':datum.value==1?'Model 3':'λ'","labelFontStyle":{"condition":{"test":"datum.value==0.5","value":"italic"},"value":"normal"}}},
     "y":{"field":"v","type":"quantitative","scale":{"domain":[79,87.5],"nice":false,"zero":false},"axis":{"title":null,"values":[80,82,84,86],"format":"d"}},
     "color":{"field":"s","type":"nominal","scale":{"domain":["Naive","Match"],"range":["#4682b4","#fa9a7a"]},"legend":null}}}
  ],"columns":3,"bounds":"flush","spacing":{"row":29,"column":58},
  "resolve":{"scale":{"color":"independent"},"legend":{"color":"independent"}},
  "title":{"text":"(c) 16 attention heads","orient":"bottom","anchor":"middle","offset":21}}
],
"spacing":13,"center":true,
"resolve":{"scale":{"color":"independent"},"legend":{"color":"independent"}}
}
